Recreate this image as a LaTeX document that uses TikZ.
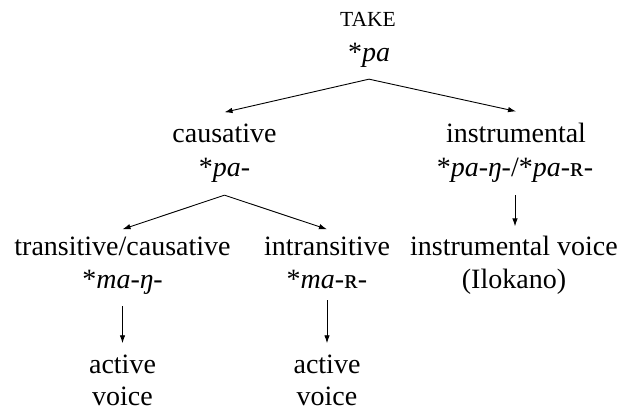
\documentclass[tikz,border=0pt]{standalone}
\usepackage{fontspec}
\setmainfont{Liberation Serif}
\usetikzlibrary{arrows.meta,calc}
\begin{document}
\begin{tikzpicture}[x=1pt,y=-1pt,
  txt/.style={anchor=base,inner sep=0pt,font=\fontsize{28}{33}\selectfont},
  arr/.style={-{Latex[length=8pt,width=5.5pt]},line width=0.9pt}]
\useasboundingbox (0,0) rectangle (623,411);
% level 0
\node[txt] (take) at (368,27) {\fontsize{21.5}{25}\selectfont TAKE};
\node[txt] (pa) at (369,62) {*\textit{pa}};
% level 1
\node[txt] (caus) at (224.5,143) {causative};
\node[txt] (causf) at (224.5,177) {*\textit{pa-}};
\node[txt] (instr) at (516,143) {instrumental};
\node[txt] (instrf) at (515,177) {*\textit{pa-ŋ-}/*\textit{pa-}ʀ-};
% level 2
\node[txt] (trans) at (122.5,256) {transitive/causative};
\node[txt] (transf) at (122.5,288) {*\textit{ma-ŋ-}};
\node[txt] (intr) at (327,256) {intransitive};
\node[txt] (intrf) at (327,288) {*\textit{ma-}ʀ-};
\node[txt] (iv) at (514,256) {instrumental voice};
\node[txt] (ivl) at (514,288) {(Ilokano)};
% level 3
\node[txt] (act1) at (122.5,373) {active};
\node[txt] (voi1) at (122.5,405) {voice};
\node[txt] (act2) at (327,373) {active};
\node[txt] (voi2) at (327,405) {voice};
% connectors
\coordinate (ap0) at ($(pa.south)+(0,11)$);
\coordinate (ap1) at ($(causf.south)+(0,12)$);
\draw[arr] (ap0) -- ($(caus.north)+(0,-12)$);
\draw[arr] (ap0) -- ($(instr.north)+(0,-12)$);
\draw[arr] (ap1) -- ($(trans.north)+(0,-8)$);
\draw[arr] (ap1) -- ($(intr.north)+(0,-8)$);
\draw[arr] ($(instrf.south)+(0,12)$) -- ($(instrf.south |- iv.north)+(0,-10)$);
\draw[arr] ($(transf.south)+(0,12)$) -- ($(act1.north)+(0,-11)$);
\draw[arr] ($(intrf.south)+(0,12)$) -- ($(act2.north)+(0,-11)$);
\end{tikzpicture}
\end{document}
